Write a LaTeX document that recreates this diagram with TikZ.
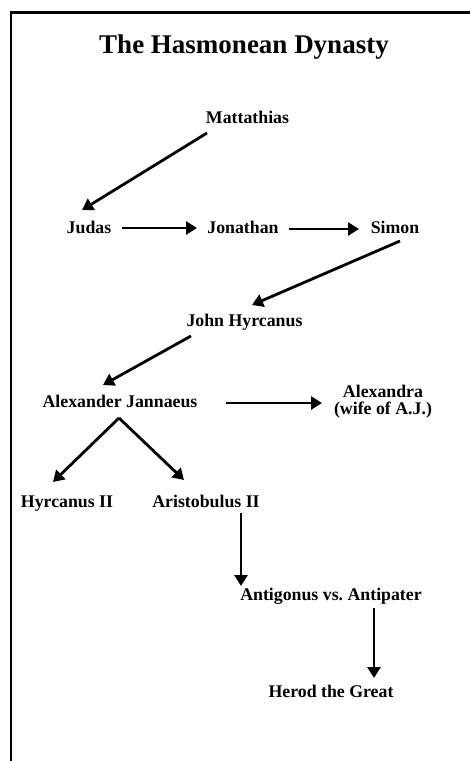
\documentclass[tikz,border=0pt]{standalone}
\usepackage{fontspec}
\setmainfont{Liberation Serif}
\usetikzlibrary{arrows.meta}
\frenchspacing
\begin{document}
\begin{tikzpicture}[x=1pt,y=-1pt,
  lbl/.style={inner sep=0pt,anchor=base,font=\fontsize{17.8}{17}\selectfont\bfseries},
  ttl/.style={inner sep=0pt,anchor=base,font=\fontsize{27}{30}\selectfont\bfseries},
  arr/.style={line width=2.8pt,-{Triangle[length=11pt,width=13pt]}},
  frame/.style={line width=2.6pt}]
\useasboundingbox (0,0) rectangle (470,761);
\draw[frame] (10.8,761) -- (10.8,12.2) -- (470,12.2);
\node[ttl] (title) at (244,53.5) {The Hasmonean Dynasty};
\node[lbl] (mat) at (247.5,123) {Mattathias};
\node[lbl] (jud) at (89,233) {Judas};
\node[lbl] (jon) at (243,233) {Jonathan};
\node[lbl] (sim) at (395,233) {Simon};
\node[lbl] (john) at (244.5,326.5) {John Hyrcanus};
\node[lbl] (alex) at (120,407.5) {Alexander Jannaeus};
\node[lbl,anchor=center,align=center] (alexandra) at (383,402) {Alexandra\\(wife of A.J.)};
\node[lbl] (hyr) at (67,507.3) {Hyrcanus II};
\node[lbl] (ari) at (206,507.3) {Aristobulus II};
\node[lbl] (ant) at (331,600.7) {Antigonus vs.\ Antipater};
\node[lbl] (her) at (331,697.3) {Herod the Great};
\draw[arr] ([shift={(-40.5,10)}]mat.base) -- ([shift={(-7,-23)}]jud.base);
\draw[arr] ([shift={(33,-5)}]jud.base) -- ([shift={(-46,-5)}]jon.base);
\draw[arr] ([shift={(46,-4)}]jon.base) -- ([shift={(-36,-4)}]sim.base);
\draw[arr] ([shift={(5,8)}]sim.base) -- ([shift={(7.5,-21.5)}]john.base);
\draw[arr] ([shift={(-53.5,9.5)}]john.base) -- ([shift={(-17,-22.5)}]alex.base);
\draw[arr] ([shift={(106,-4.5)}]alex.base) -- ([shift={(-61,1)}]alexandra.center);
\draw[arr] ([shift={(-1,10.5)}]alex.base) -- ([shift={(-14,-25.3)}]hyr.base);
\draw[arr] ([shift={(-1,10.5)}]alex.base) -- ([shift={(-22,-27.3)}]ari.base);
\draw[arr] ([shift={(35,5.7)}]ari.base) -- ([shift={(-90,-14.7)}]ant.base);
\draw[arr] ([shift={(43,7.3)}]ant.base) -- ([shift={(43,-19.3)}]her.base);
\end{tikzpicture}
\end{document}
